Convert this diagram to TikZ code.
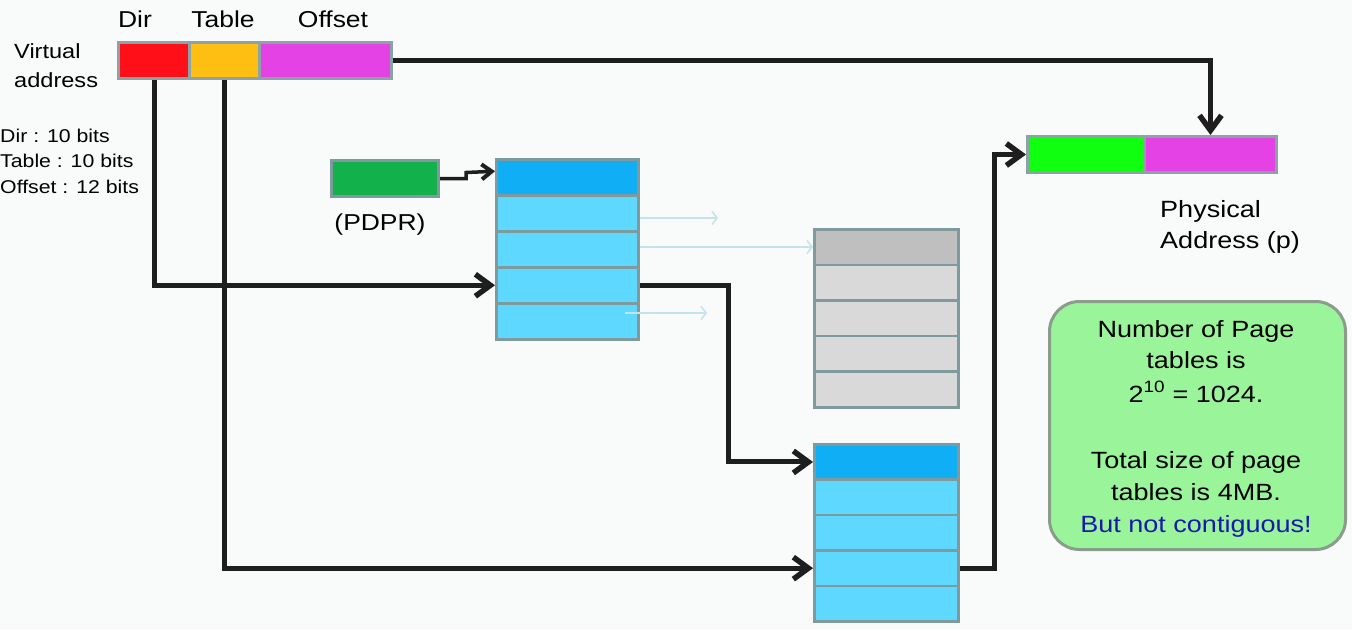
\documentclass[tikz,border=0pt]{standalone}
\usepackage{fontspec}
\setmainfont{Liberation Sans}[FakeStretch=1.15]
\usetikzlibrary{arrows.meta,calc}
\definecolor{bgc}{HTML}{F9FAFA}
\definecolor{cred}{HTML}{FF1018}
\definecolor{corange}{HTML}{FFBE12}
\definecolor{cmag}{HTML}{E542E5}
\definecolor{cbar}{HTML}{8CA2A6}
\definecolor{cpdpr}{HTML}{12B14C}
\definecolor{chead}{HTML}{10AFF5}
\definecolor{crow}{HTML}{5FD8FF}
\definecolor{cghead}{HTML}{BFBFBF}
\definecolor{cgrow}{HTML}{D9D9D9}
\definecolor{ctab}{HTML}{7F9A9C}
\definecolor{cpgreen}{HTML}{10FF10}
\definecolor{cnote}{HTML}{9AF59A}
\definecolor{cnoteb}{HTML}{8A9C8A}
\definecolor{cblue}{HTML}{1A1AAA}
\definecolor{carrow}{HTML}{1E1E1E}
\definecolor{cfaint}{HTML}{C5E3EA}
\begin{document}
\begin{tikzpicture}[x=1pt,y=-1pt,
  seg/.style={draw=cbar,line width=3pt,anchor=north west,inner sep=0pt,minimum height=36pt},
  rowbox/.style={draw=ctab,line width=2.5pt,anchor=north west,inner sep=0pt,minimum width=142pt,minimum height=36pt},
  arr/.style={draw=carrow,line width=5pt,-{Straight Barb[length=15pt,width=22pt,line width=5.5pt]}},
  smallarr/.style={draw=carrow,line width=3.5pt,-{Straight Barb[length=10pt,width=15pt,line width=4pt]}},
  faint/.style={draw=cfaint,line width=1.5pt,-{Straight Barb[length=5pt,width=13pt]}},
  lbl/.style={inner sep=0pt,font=\fontsize{23}{28}\selectfont},
  small/.style={inner sep=0pt,anchor=base west,font=\fontsize{18.5}{22}\selectfont},
  notetxt/.style={inner sep=0pt,anchor=base,font=\fontsize{23.5}{28}\selectfont}]
\fill[bgc] (0,0) rectangle (1352,630);
\useasboundingbox (0,0) rectangle (1352,630);

% virtual address
\node[seg,fill=cred,minimum width=71pt] (dir) at (117,41) {};
\node[seg,fill=corange,minimum width=70pt] (tab) at (188,41) {};
\node[seg,fill=cmag,minimum width=132pt] (off) at (258,41) {};
\node[lbl,anchor=base] (ldir) at (135,27) {Dir};
\node[lbl,anchor=base] (ltab) at (223,27) {Table};
\node[lbl,anchor=base] (loff) at (333,27) {Offset};
\node[inner sep=0pt,anchor=base west,font=\fontsize{20.5}{25}\selectfont] (va1) at (14,58) {Virtual};
\node[inner sep=0pt,anchor=base west,font=\fontsize{20.5}{25}\selectfont] (va2) at (14,87) {address};
\node[small] (b1) at (0,142) {Dir : 10 bits};
\node[small] (b2) at (0,167) {Table : 10 bits};
\node[small] (b3) at (0,193) {Offset : 12 bits};

% PDPR
\node[seg,draw=ctab,fill=cpdpr,minimum width=107pt] (pdpr) at (330,159) {};
\node[lbl,anchor=base] (lpdpr) at (380,230) {(PDPR)};

% page directory
\node[rowbox,fill=chead] (pd1) at (495,158) {};
\node[rowbox,fill=crow] (pd2) at (495,194) {};
\node[rowbox,fill=crow] (pd3) at (495,230) {};
\node[rowbox,fill=crow] (pd4) at (495,266) {};
\node[rowbox,fill=crow] (pd5) at (495,302) {};

% grey page table
\node[rowbox,fill=cghead,minimum width=144pt,minimum height=35.6pt] (g1) at (813,228) {};
\node[rowbox,fill=cgrow,minimum width=144pt,minimum height=35.6pt] (g2) at (813,263.6) {};
\node[rowbox,fill=cgrow,minimum width=144pt,minimum height=35.6pt] (g3) at (813,299.2) {};
\node[rowbox,fill=cgrow,minimum width=144pt,minimum height=35.6pt] (g4) at (813,334.8) {};
\node[rowbox,fill=cgrow,minimum width=144pt,minimum height=35.6pt] (g5) at (813,370.4) {};

% blue page table
\node[rowbox,fill=chead,minimum width=144pt,minimum height=35.4pt] (pt1) at (813,443) {};
\node[rowbox,fill=crow,minimum width=144pt,minimum height=35.4pt] (pt2) at (813,478.4) {};
\node[rowbox,fill=crow,minimum width=144pt,minimum height=35.4pt] (pt3) at (813,513.8) {};
\node[rowbox,fill=crow,minimum width=144pt,minimum height=35.4pt] (pt4) at (813,549.2) {};
\node[rowbox,fill=crow,minimum width=144pt,minimum height=35.4pt] (pt5) at (813,584.6) {};

% physical address
\node[seg,fill=cpgreen,minimum width=117pt] (pgreen) at (1026,135) {};
\node[seg,fill=cmag,minimum width=132pt] (pmag) at (1143,135) {};
\node[lbl,anchor=base west,font=\fontsize{23.5}{28}\selectfont] (ph1) at (1160,217) {Physical};
\node[lbl,anchor=base west,font=\fontsize{23.5}{28}\selectfont] (ph2) at (1160,248) {Address (p)};

% note
\node[draw=cnoteb,line width=3pt,fill=cnote,rounded corners=30pt,anchor=north west,inner sep=0pt,
      minimum width=296pt,minimum height=248pt] (note) at (1048,300) {};
\node[notetxt] (n1) at (1196,337) {Number of Page};
\node[notetxt] (n2) at (1196,368) {tables is};
\node[notetxt] (n3) at (1196,402) {2\textsuperscript{10} = 1024.};
\node[notetxt] (n4) at (1196,468) {Total size of page};
\node[notetxt] (n5) at (1196,500) {tables is 4MB.};
\node[notetxt,text=cblue] (n6) at (1196,532) {But not contiguous!};

% faint arrows
\coordinate (f1s) at (640,218); \coordinate (f1e) at (718,218);
\coordinate (f3s) at (625,313); \coordinate (f3e) at (707,313);
\draw[faint] (f1s) -- (f1e);
\draw[faint] (pd3.east |- g1.west) -- (g1.west);
\draw[faint] (f3s) -- (f3e);

% connectors
\draw[smallarr] (pdpr.east) -- ++(26,0) -- ++(0,-6) -- ($(pd1.west)+(0,-6)$);
\draw[arr] (dir.south) |- (pd4.west);
\draw[arr] (tab.south) |- (pt4.west);
\draw[arr] (pd4.east) -- ++(89,0) |- (pt1.west);
\draw[arr] (pt4.east) -- ++(35,0) |- (pgreen.west);
\draw[arr] (off.east) -| (pmag.north);
\end{tikzpicture}
\end{document}
